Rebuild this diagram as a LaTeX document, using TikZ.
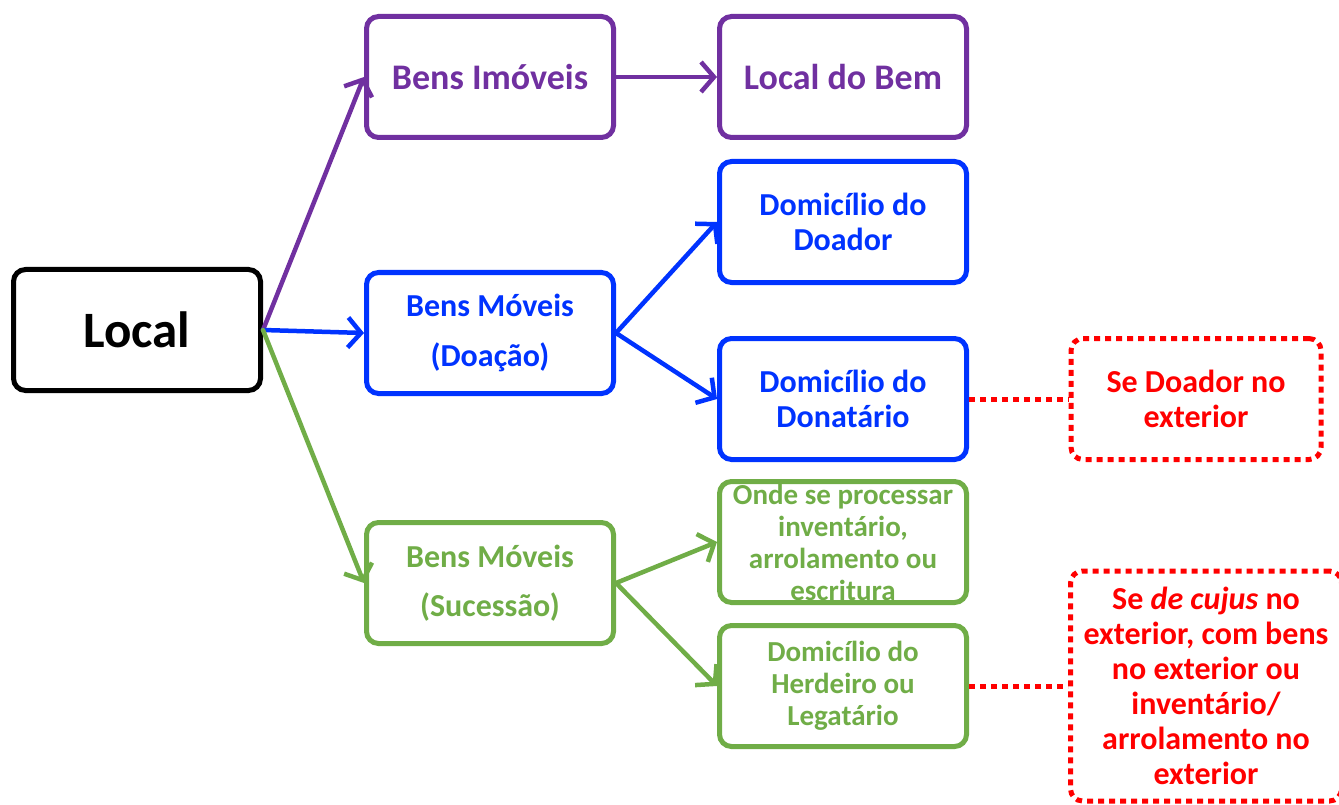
\documentclass[tikz,border=0pt]{standalone}
\usepackage{fontspec}
\setmainfont{Carlito}
\usetikzlibrary{arrows.meta}
\definecolor{lroxo}{RGB}{112,48,160}
\definecolor{lazul}{RGB}{0,51,255}
\definecolor{lverde}{RGB}{112,173,71}
\definecolor{lvermelho}{RGB}{255,0,0}
\newcommand*\tam[2]{\fontsize{#1}{#2}\selectfont\bfseries}

\begin{document}
\begin{tikzpicture}[x=1pt,y=1pt,>={Straight Barb[length=13pt,width=30pt]},node distance=353pt,
	caixa/.style={shape=rectangle,rounded corners=12pt,line width=5pt,minimum width=247pt,minimum height=121pt,align=center,inner sep=2pt},
	preto/.style={caixa,draw=black,text=black,font=\tam{51}{60}},
	roxo/.style={caixa,draw=lroxo,text=lroxo,font=\tam{36}{43}},
	azul/.style={caixa,draw=lazul,text=lazul,font=\tam{32}{35}},
	verde/.style={caixa,draw=lverde,text=lverde,font=\tam{29}{32}},
	nota/.style={caixa,draw=lvermelho,text=lvermelho,font=\tam{32}{35},line width=5pt,dash pattern=on 6pt off 5pt},
	seta/.style={->,line width=4.5pt,line cap=round},
	tracejado/.style={line width=5pt,draw=lvermelho,dash pattern=on 6pt off 5pt}]
	\useasboundingbox (0,0) rectangle (1339,-805);
					\node (local) [preto] at (137,-330) {Local};
					\node (doacao) [azul,font=\tam{32}{50}] [right of = local,yshift=-3pt] {
						Bens Móveis\\(Doação)
					};
					\node (imoveis) [roxo] [node distance=256pt,above of = doacao] {Bens Imóveis};
					\node (localbem) [roxo] [right of = imoveis] {Local do Bem};
					\node (sucessao) [verde,font=\tam{32}{49}] [node distance=250pt,below of = doacao] {
						Bens Móveis\\(Sucessão)
					};
					\node (doador) [azul] [right of = doacao,yshift=111pt] {
						Domicílio do\\Doador
					};
					\node (donatario) [azul] [node distance=177pt,below of = doador] {
						Domicílio do\\Donatário
					};
					\node (processar) [verde,label={[text=lverde,font=\tam{29}{32},align=center]center:{Onde se processar\\inventário,\\arrolamento ou\\escritura}}] [right of = sucessao,yshift=41pt] {};
					\node (herdeiro) [verde] [node distance=144pt,below of = processar] {
						Domicílio do\\Herdeiro ou\\Legatário
					};
					\node (doadorfora) [nota,minimum width=250pt] [right of = donatario] {
						Se Doador no\\exterior
					};
					\node (cujusfora) [nota,minimum width=271pt,minimum height=230pt] [node distance=363pt,right of = herdeiro] {
						Se \textit{de cujus} no\\exterior, com bens\\no exterior ou\\inventário/\\arrolamento no\\exterior
					};

					\path[seta,lroxo](local.east) edge (imoveis.west);
					\path[seta,lazul](local.east) edge (doacao.west);
					\path[seta,lverde](local.east) edge (sucessao.west);
					\path[seta,lroxo](imoveis.east) edge (localbem.west);
					\path[seta,lazul](doacao.east) edge (doador.west);
					\path[seta,lazul](doacao.east) edge (donatario.west);
					\path[seta,lverde](sucessao.east) edge (processar.west);
					\path[seta,lverde](sucessao.east) edge (herdeiro.west);
					\path[tracejado](donatario.east) edge (doadorfora.west);
					\path[tracejado](herdeiro.east) edge (cujusfora.west);
				\end{tikzpicture}
\end{document}
